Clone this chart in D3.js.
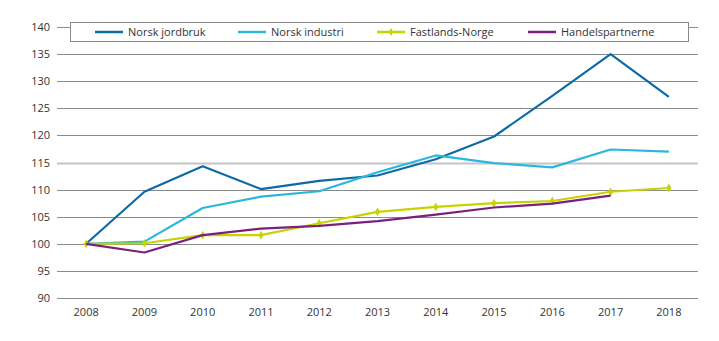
<!DOCTYPE html>
<html>
<head>
<meta charset="utf-8">
<script src="https://cdn.jsdelivr.net/npm/d3@7"></script>
<style>
  html, body { margin: 0; padding: 0; background: #fff; }
  svg { display: block; font-family: "Open Sans", sans-serif; }
</style>
</head>
<body>
<svg id="chart" width="719" height="341"></svg>
<script>
// Index, 2008 = 100
const years = ["2008","2009","2010","2011","2012","2013","2014","2015","2016","2017","2018"];
const jordbruk = [100, 109.6, 114.3, 110.1, 111.6, 112.6, 115.6, 119.8, 127.3, 135.0, 127.1];
const industri = [100, 100.4, 106.6, 108.7, 109.7, 113.2, 116.3, 114.9, 114.1, 117.4, 117.0];
const fastland = [100, 100.1, 101.6, 101.6, 103.8, 105.9, 106.8, 107.5, 107.9, 109.6, 110.3];
const handel   = [100, 98.4, 101.6, 102.8, 103.3, 104.2, 105.4, 106.7, 107.4, 108.9, null];
const yTicks = [90, 95, 100, 105, 110, 115, 120, 125, 130, 135, 140];

const series = [
  { name: "Norsk jordbruk",   values: jordbruk, color: "#0e6aa5", markers: false },
  { name: "Norsk industri",   values: industri, color: "#2bb7dc", markers: false },
  { name: "Fastlands-Norge",  values: fastland, color: "#c7d300", markers: true  },
  { name: "Handelspartnerne", values: handel,   color: "#7b1f80", markers: false }
];

const svg = d3.select("#chart");
const plotLeft = 57, plotRight = 698, plotTop = 27, plotBottom = 298;

const x = d3.scaleBand().domain(years).range([plotLeft, plotRight]);
const y = d3.scaleLinear().domain([90, 140]).range([plotBottom, plotTop]);
const cx = d => x(d) + x.bandwidth() / 2;

// gridlines; 115 is drawn lighter and heavier
const grid = svg.append("g");
grid.selectAll("line").data(yTicks).join("line")
  .attr("x1", plotLeft).attr("x2", plotRight)
  .attr("y1", d => Math.round(y(d)) + 0.5).attr("y2", d => Math.round(y(d)) + 0.5)
  .attr("stroke", d => d === 115 ? "#c4c4c4" : "#8a8a8a")
  .attr("stroke-width", d => d === 115 ? 2 : 1);

// y axis labels
const yAxis = svg.append("g")
  .attr("transform", `translate(${plotLeft - 7},0)`)
  .call(d3.axisLeft(y).tickValues(yTicks).tickSize(0).tickPadding(0));
yAxis.select(".domain").remove();
yAxis.selectAll("text").attr("font-size", 11).attr("fill", "#333")
  .attr("font-family", "Open Sans, sans-serif");

// x axis labels
const xAxis = svg.append("g")
  .attr("transform", `translate(0,${plotBottom + 10})`)
  .call(d3.axisBottom(x).tickSize(0).tickPadding(0));
xAxis.select(".domain").remove();
xAxis.selectAll("text").attr("font-size", 11).attr("fill", "#333")
  .attr("font-family", "Open Sans, sans-serif").attr("dy", "0.71em");

// lines
const line = d3.line()
  .defined(d => d.v != null)
  .x(d => cx(d.year))
  .y(d => y(d.v));

series.forEach(s => {
  const pts = years.map((yr, i) => ({ year: yr, v: s.values[i] }));
  svg.append("path")
    .datum(pts)
    .attr("fill", "none")
    .attr("stroke", s.color)
    .attr("stroke-width", 2.2)
    .attr("stroke-linejoin", "round")
    .attr("d", line);
  if (s.markers) {
    svg.append("g").selectAll("path").data(pts.filter(p => p.v != null)).join("path")
      .attr("transform", p => `translate(${cx(p.year)},${y(p.v)})`)
      .attr("d", d3.symbol(d3.symbolDiamond, 22))
      .attr("fill", s.color);
  }
});

// legend
const legend = svg.append("g");
legend.append("rect")
  .attr("x", 70.5).attr("y", 22.5).attr("width", 618).attr("height", 19)
  .attr("fill", "#fff").attr("stroke", "#8a8a8a").attr("stroke-width", 1);

const legendX = [95, 238, 377, 528];
series.forEach((s, i) => {
  const g = legend.append("g").attr("transform", `translate(${legendX[i]},32)`);
  g.append("line").attr("x1", 0).attr("x2", 28).attr("y1", 0).attr("y2", 0)
    .attr("stroke", s.color).attr("stroke-width", 2.5);
  if (s.markers) {
    g.append("path").attr("transform", "translate(14,0)")
      .attr("d", d3.symbol(d3.symbolDiamond, 18)).attr("fill", s.color);
  }
  g.append("text").attr("x", 33).attr("y", 0).attr("dy", "0.35em")
    .attr("font-size", 11).attr("fill", "#333").text(s.name);
});
</script>
</body>
</html>
